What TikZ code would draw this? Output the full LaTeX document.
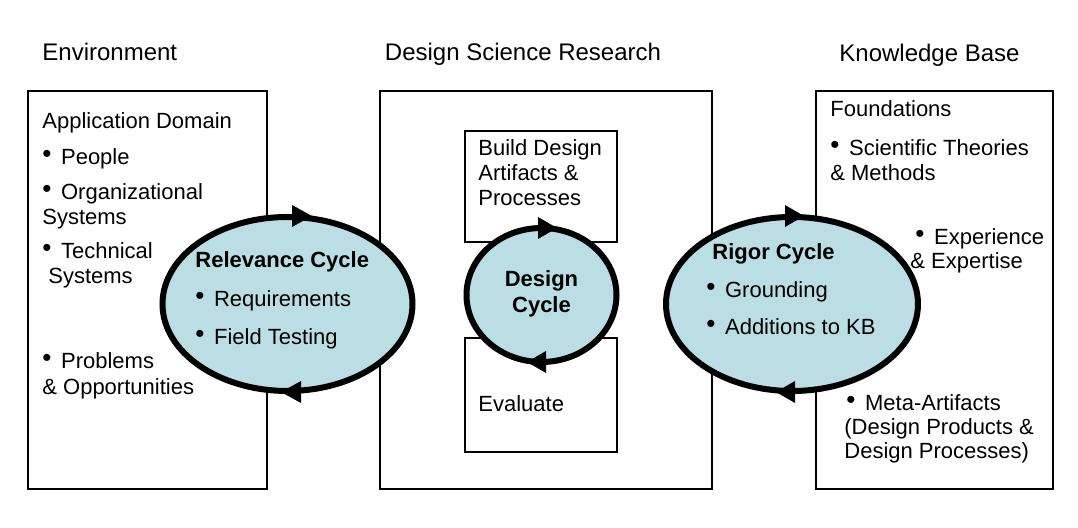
\documentclass[tikz,border=0pt]{standalone}
\usepackage{fontspec}
\setmainfont{Liberation Sans}
\definecolor{cycfill}{RGB}{186,222,227}
\newcommand{\bul}{\raisebox{1pt}{\fontsize{13}{13}\selectfont•}\hspace{4.8pt}}
\tikzset{
  box/.style={draw,line width=1pt},
  cyc/.style={draw,line width=3pt,fill=cycfill},
  cyctip/.style={fill=black},
  txt/.style={anchor=base west,inner sep=0pt,font=\fontsize{11}{13}\selectfont},
  hd/.style={anchor=base west,inner sep=0pt,font=\fontsize{12}{14}\selectfont},
  cyctitle/.style={anchor=base west,inner sep=0pt,font=\fontsize{11}{13}\selectfont\bfseries}
}
\begin{document}
\begin{tikzpicture}[x=0.5pt,y=-0.5pt]
    \useasboundingbox (0,0) rectangle (1078,528);
    % headings
    \node[hd] (env) at (42,61) {Environment};
    \node[hd,anchor=base] (dsr) at (523,61) {Design Science Research};
    \node[hd] (kb) at (839,62) {Knowledge Base};
    % boxes
    \draw[box] (28,91) rectangle (267,489);
    \draw[box] (380,91) rectangle (712,489);
    \draw[box] (816,91) rectangle (1053,489);
    \draw[box] (465,131) rectangle (617,242);
    \draw[box] (465,338) rectangle (617,452);
    % environment
    \node[txt] (appdom) at (42,129) {Application Domain};
    \node[txt] (people) at (42,165) {\bul People};
    \node[txt] (org) at (42,200) {\bul Organizational};
    \node[txt] (orgsys) at (42,225) {Systems};
    \node[txt] (tech) at (42,259) {\bul Technical};
    \node[txt] (techsys) at (48,284) {Systems};
    \node[txt] (probs) at (42,369) {\bul Problems};
    \node[txt] (opps) at (42,395) {\& Opportunities};
    % design science research
    \node[txt] (build) at (478,156) {Build Design};
    \node[txt] (artif) at (478,181) {Artifacts \&};
    \node[txt] (procs) at (478,206) {Processes};
    \node[txt] (eval) at (478,412) {Evaluate};
    % knowledge base
    \node[txt] (found) at (830,117) {Foundations};
    \node[txt] (theo) at (830,156) {\bul Scientific Theories};
    \node[txt] (meth) at (830,181) {\& Methods};
    \node[txt] (exper) at (915,245) {\bul Experience};
    \node[txt] (expert) at (910,269) {\& Expertise};
    \node[txt] (meta) at (846,411) {\bul Meta-Artifacts};
    \node[txt] (prods) at (844,435) {(Design Products \&};
    \node[txt] (dprocs) at (844,459) {Design Processes)};
    % cycles
    \draw[cyc] (287.5,304) ellipse [x radius=125,y radius=87];
    \fill[cyctip] (312,216) -- ++(-20,-11) -- ++(0,22) -- cycle;
    \fill[cyctip] (281,392) -- ++(20,-11) -- ++(0,22) -- cycle;
    \draw[cyc] (541.5,295) ellipse [x radius=75,y radius=67];
    \fill[cyctip] (557,228) -- ++(-19,-11) -- ++(0,22) -- cycle;
    \fill[cyctip] (527,362) -- ++(19,-11) -- ++(0,22) -- cycle;
    \draw[cyc] (792,304) ellipse [x radius=126,y radius=87];
    \fill[cyctip] (804,216) -- ++(-19,-11) -- ++(0,22) -- cycle;
    \fill[cyctip] (776,392) -- ++(19,-11) -- ++(0,22) -- cycle;
    % cycle texts
    \node[cyctitle] (relcyc) at (195,268) {Relevance Cycle};
    \node[txt] (req) at (195,307) {\bul Requirements};
    \node[txt] (field) at (195,345) {\bul Field Testing};
    \node[cyctitle,anchor=base] (descyc) at (541.5,287) {Design};
    \node[cyctitle,anchor=base] (descyc2) at (541.5,313) {Cycle};
    \node[cyctitle] (rigcyc) at (712,260) {Rigor Cycle};
    \node[txt] (ground) at (706,298) {\bul Grounding};
    \node[txt] (addkb) at (706,335) {\bul Additions to KB};
\end{tikzpicture}
\end{document}
